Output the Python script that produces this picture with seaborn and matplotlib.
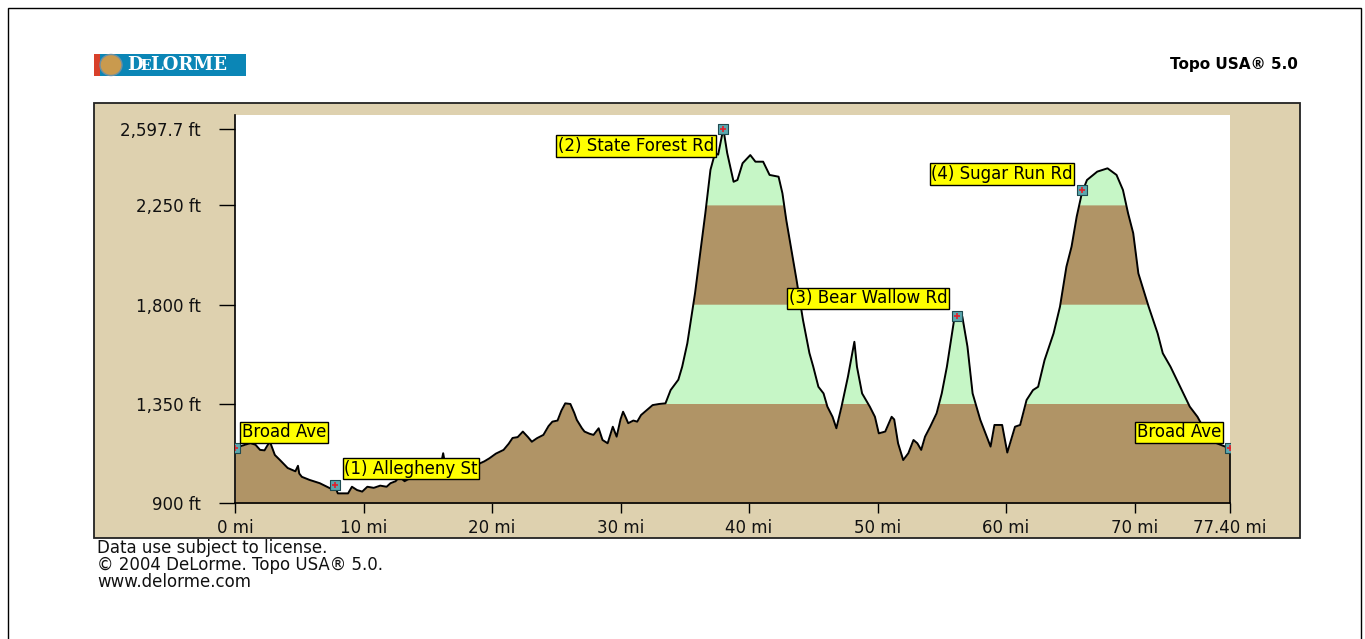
import numpy as np
import matplotlib
matplotlib.use("Agg")
import matplotlib.pyplot as plt
from matplotlib.patches import Rectangle, Ellipse
import seaborn as sns

# elevation profile (miles, feet)
dist_mi = [0.0, 0.5, 1.2, 1.6, 1.95, 2.3, 2.5, 2.72, 3.1, 3.5, 4.1, 4.7, 4.9, 5.0,
           5.2, 5.8, 6.6, 7.4, 7.8, 8.0, 8.8, 9.1, 9.5, 9.9, 10.3, 10.8, 11.3, 11.8,
           12.1, 12.5, 12.8, 13.2, 13.6, 14.0, 14.4, 15.0, 15.5, 16.0, 16.2, 16.4,
           16.6, 17.0, 17.5, 18.0, 18.8, 19.4, 19.8, 20.3, 20.9, 21.3, 21.6, 22.0,
           22.4, 22.8, 23.1, 23.5, 24.0, 24.4, 24.7, 25.1, 25.4, 25.7, 26.1, 26.4,
           26.6, 27.0, 27.2, 27.6, 27.9, 28.3, 28.6, 29.0, 29.4, 29.7, 30.0, 30.2,
           30.4, 30.6, 31.0, 31.3, 31.6, 31.9, 32.2, 32.5, 33.0, 33.5, 33.9, 34.5,
           34.8, 35.2, 35.6, 35.8, 36.2, 36.6, 37.0, 37.35, 37.6, 38.0, 38.3, 38.8,
           39.1, 39.5, 40.1, 40.5, 41.1, 41.6, 42.3, 42.6, 42.9, 43.3, 43.7, 44.2,
           44.7, 45.0, 45.4, 45.8, 46.1, 46.5, 46.8, 47.2, 47.7, 48.2, 48.4, 48.8,
           49.4, 49.8, 50.1, 50.6, 51.1, 51.3, 51.6, 52.0, 52.4, 52.8, 53.1, 53.4,
           53.7, 54.1, 54.6, 55.0, 55.4, 55.8, 56.0, 56.3, 56.6, 57.0, 57.4, 58.0,
           58.5, 58.8, 59.1, 59.7, 60.1, 60.7, 61.1, 61.6, 62.1, 62.5, 63.0, 63.7,
           64.2, 64.7, 65.1, 65.5, 65.9, 66.3, 67.1, 67.9, 68.6, 69.1, 69.5, 69.9,
           70.3, 70.7, 71.1, 71.8, 72.2, 72.8, 73.3, 73.8, 74.3, 74.9, 75.6, 76.4,
           77.4]
elev_ft = [1149, 1160, 1173, 1165, 1142, 1140, 1160, 1179, 1119, 1096, 1060, 1045, 1070, 1035,
           1020, 1006, 991, 968, 975, 945, 945, 975, 960, 953, 975, 970, 980, 975,
           991, 1000, 1020, 1000, 1013, 1030, 1051, 1060, 1055, 1070, 1127, 1060,
           1020, 1060, 1065, 1070, 1074, 1090, 1104, 1125, 1142, 1170, 1196, 1200,
           1225, 1200, 1179, 1195, 1210, 1250, 1270, 1275, 1320, 1353, 1350, 1310,
           1278, 1240, 1225, 1215, 1210, 1240, 1187, 1172, 1247, 1202, 1280, 1315,
           1290, 1263, 1275, 1270, 1300, 1315, 1330, 1345, 1350, 1353, 1413, 1460,
           1519, 1625, 1776, 1852, 2033, 2214, 2411, 2486, 2480, 2597.7, 2488, 2357,
           2365, 2441, 2478, 2448, 2448, 2388, 2380, 2305, 2184, 2048, 1912, 1731,
           1581, 1519, 1428, 1398, 1338, 1292, 1240, 1338, 1474, 1632, 1519, 1398,
           1338, 1292, 1217, 1225, 1292, 1280, 1172, 1096, 1127, 1187, 1172, 1142,
           1202, 1247, 1308, 1398, 1519, 1670, 1746, 1755, 1746, 1610, 1398, 1278,
           1202, 1157, 1255, 1255, 1130, 1247, 1255, 1368, 1413, 1428, 1549, 1670,
           1791, 1972, 2063, 2199, 2305, 2365, 2403, 2418, 2388, 2320, 2214, 2124,
           1942, 1867, 1791, 1670, 1580, 1519, 1459, 1398, 1338, 1292, 1217, 1172,
           1149]

# route stops
stop_names = ["Broad Ave", "(1) Allegheny St", "(2) State Forest Rd",
              "(3) Bear Wallow Rd", "(4) Sugar Run Rd", "Broad Ave"]
stop_mi = [0.0, 7.8, 38.0, 56.2, 65.9, 77.4]
stop_ft = [1149, 985, 2597.7, 1750, 2320, 1149]

band_edges = [900, 1350, 1800, 2250]
y_ticks = [900, 1350, 1800, 2250, 2597.7]
y_labels = ["900 ft", "1,350 ft", "1,800 ft", "2,250 ft", "2,597.7 ft"]
x_ticks = [0, 10, 20, 30, 40, 50, 60, 70, 77.4]
x_labels = ["0 mi", "10 mi", "20 mi", "30 mi", "40 mi", "50 mi", "60 mi", "70 mi", "77.40 mi"]

W, H = 1365, 639
TAN = "#DED1AF"
BROWN = "#B09466"
GREEN = "#C6F6C6"
FS = 12

sns.set_theme(style="white")
plt.rcParams['font.family'] = ['DejaVu Sans']

dist = np.array(dist_mi)
elev = np.array(elev_ft)

fig = plt.figure(figsize=(W / 100, H / 100), dpi=100)
fig.patch.set_facecolor("white")

# outer frame + tan panel
fig.add_artist(Rectangle((8 / W, -0.05), (1361 - 8) / W, 1.05 - 8 / H,
                         transform=fig.transFigure, fc="none", ec="black", lw=1))
fig.add_artist(Rectangle((94 / W, 1 - 538 / H), (1300 - 94) / W, 435 / H,
                         transform=fig.transFigure, fc=TAN, ec="#222222", lw=1.3, zorder=0))

ax = fig.add_axes([235 / W, 1 - 503.3 / H, 994.6 / W, 388.3 / H])
ax.set_facecolor("white")

# coloured elevation bands, each drawn from its floor up to the profile
for i, lo in enumerate(band_edges):
    ax.fill_between(dist, lo, elev, where=elev >= lo, interpolate=True,
                    color=BROWN if i % 2 == 0 else GREEN, lw=0, zorder=1)

sns.lineplot(x=dist, y=elev, estimator=None, color="black", lw=1.4, ax=ax, zorder=3)

sns.scatterplot(x=stop_mi, y=stop_ft, marker="s", s=55, color="#5BA7AE",
                edgecolor="#1E4A50", linewidth=0.8, ax=ax, zorder=5)
ax.scatter(stop_mi, stop_ft, marker="+", s=14, color="#E0202A", lw=1.2, zorder=6)

# label boxes: offset (points) and alignment per stop
offs = [(5, 5, "left"), (6.5, 5, "left"), (-6.5, -6, "right"),
        (-7, 6, "right"), (-6.5, 5, "right"), (-6, 5, "right")]
for name, mx, my, (dx, dy, ha) in zip(stop_names, stop_mi, stop_ft, offs):
    ax.annotate(name, (mx, my), xytext=(dx, dy), textcoords="offset points",
                ha=ha, va="bottom" if dy > 0 else "top", fontsize=FS, color="black",
                bbox=dict(boxstyle="square,pad=0.1", fc="#FFFF00", ec="black", lw=1),
                zorder=7, annotation_clip=False)

ax.set_xlim(0, 77.4)
ax.set_ylim(900, 2659.6)
ax.set_xticks(x_ticks)
ax.set_xticklabels(x_labels)
ax.set_yticks(y_ticks)
ax.set_yticklabels(y_labels)
ax.tick_params(axis="y", direction="out", length=11.5, width=1, color="black",
               pad=13, labelsize=FS, labelcolor="#111111", left=True)
ax.tick_params(axis="x", direction="out", length=7, width=1, color="black",
               pad=4, labelsize=FS, labelcolor="#111111", bottom=True)
ax.spines["top"].set_visible(False)
ax.spines["right"].set_bounds(900, elev[-1])
for s in ["left", "bottom", "right"]:
    ax.spines[s].set_color("black")
    ax.spines[s].set_linewidth(1.2)
ax.set_xlabel("")
ax.set_ylabel("")

# header
fig.add_artist(Rectangle((94 / W, 1 - 76 / H), 152 / W, 22 / H,
                         transform=fig.transFigure, fc="#0B86B6", ec="none"))
fig.add_artist(Rectangle((94 / W, 1 - 76 / H), 6 / W, 22 / H,
                         transform=fig.transFigure, fc="#D8402A", ec="none"))
fig.add_artist(Ellipse((111 / W, 1 - 65 / H), 22 / W, 21 / H, transform=fig.transFigure,
                       fc="#C99A4E", ec="#6F8FA0", lw=1))
fig.text(127 / W, 1 - 65.5 / H, "D", color="white", fontsize=13, fontweight="bold",
         family="DejaVu Serif", va="center", ha="left")
fig.text(140 / W, 1 - 66.5 / H, "E", color="white", fontsize=10, fontweight="bold",
         family="DejaVu Serif", va="center", ha="left")
fig.text(150 / W, 1 - 65.5 / H, "LORME", color="white", fontsize=13, fontweight="bold",
         family="DejaVu Serif", va="center", ha="left")
fig.text(1298 / W, 1 - 65 / H, "Topo USA® 5.0", fontsize=11, fontweight="bold",
         ha="right", va="center", color="black")

# footer
for k, line in enumerate(["Data use subject to license.",
                          "© 2004 DeLorme. Topo USA® 5.0.",
                          "www.delorme.com"]):
    fig.text(97 / W, 1 - (548 + 17 * k) / H, line, fontsize=FS, ha="left",
             va="center", color="#111111")

fig.savefig("out.png", dpi=100)
